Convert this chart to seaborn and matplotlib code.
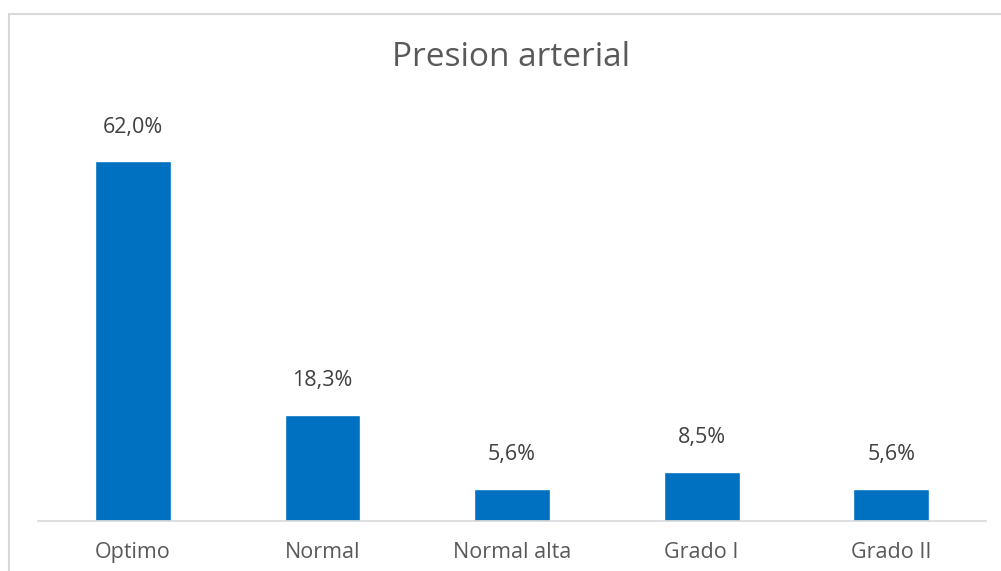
import matplotlib
matplotlib.use("Agg")
import matplotlib.pyplot as plt
import seaborn as sns
import pandas as pd
from matplotlib.lines import Line2D

# data
categorias = ['Optimo', 'Normal', 'Normal alta', 'Grado I', 'Grado II']
porcentajes = [62.0, 18.3, 5.6, 8.5, 5.6]

df = pd.DataFrame({'categoria': categorias, 'pct': porcentajes})

sns.set_style("white")
plt.rcParams['font.family'] = ['Open Sans', 'DejaVu Sans']

fig = plt.figure(figsize=(10.01, 5.71), dpi=100)
ax = fig.add_axes([0.038, 0.0876, 0.947, 0.711])

sns.barplot(data=df, x='categoria', y='pct', color='#0070C0', width=0.4,
            saturation=1, ax=ax)

ax.set_xlim(-0.5, 4.5)
ax.set_ylim(0, 70)
ax.set_xlabel('')
ax.set_ylabel('')
ax.set_yticks([])
for s in ['top', 'right', 'left']:
    ax.spines[s].set_visible(False)
ax.spines['bottom'].set_color('#d9d9d9')
ax.spines['bottom'].set_linewidth(1.2)
ax.tick_params(axis='x', length=0, pad=15, labelsize=15.5, labelcolor='#595959')

# data labels
for i, v in enumerate(porcentajes):
    txt = f"{v:.1f}".replace('.', ',') + '%'
    ax.annotate(txt, (i, v), xytext=(0, 24.5), textcoords='offset points',
                ha='center', va='center', fontsize=15.5, color='#404040')

fig.text(0.511, 0.9, 'Presion arterial', ha='center', va='center',
         fontsize=24, color='#595959')

# chart border (cropped on right and bottom)
fig.add_artist(Line2D([9 / 1001, 9 / 1001], [0, 1 - 14 / 571],
                      transform=fig.transFigure, color='#d9d9d9', lw=1.5))
fig.add_artist(Line2D([9 / 1001, 1], [1 - 14 / 571, 1 - 14 / 571],
                      transform=fig.transFigure, color='#d9d9d9', lw=1.5))

fig.savefig('out.png', dpi=100, facecolor='white')
